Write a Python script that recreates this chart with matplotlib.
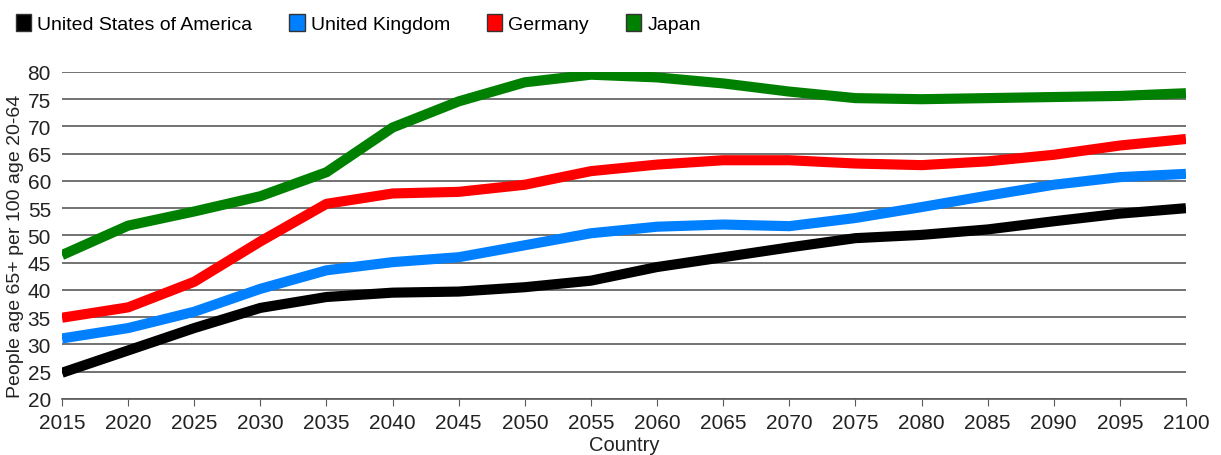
import matplotlib
matplotlib.use("Agg")
import matplotlib.pyplot as plt
from matplotlib.patches import Patch

# Data
YEARS = [2015, 2020, 2025, 2030, 2035, 2040, 2045, 2050, 2055,
         2060, 2065, 2070, 2075, 2080, 2085, 2090, 2095, 2100]

USA = [24.8, 28.9, 33.0, 36.7, 38.7, 39.5, 39.7, 40.5, 41.7,
       44.2, 46.0, 47.8, 49.5, 50.1, 51.1, 52.6, 54.0, 55.0]
UK = [31.1, 33.0, 36.0, 40.2, 43.6, 45.1, 46.0, 48.2, 50.4,
      51.6, 52.0, 51.7, 53.2, 55.2, 57.3, 59.3, 60.7, 61.3]
GERMANY = [34.9, 36.8, 41.5, 48.9, 55.8, 57.7, 58.0, 59.3, 61.8,
           63.0, 63.8, 63.8, 63.2, 62.9, 63.6, 64.8, 66.5, 67.7]
JAPAN = [46.4, 51.8, 54.4, 57.2, 61.6, 69.8, 74.6, 78.1, 79.5,
         79.0, 77.9, 76.4, 75.2, 75.0, 75.2, 75.4, 75.6, 76.1]

SERIES = [
    ("United States of America", USA, "#000000"),
    ("United Kingdom", UK, "#0080ff"),
    ("Germany", GERMANY, "#ff0000"),
    ("Japan", JAPAN, "#008000"),
]

plt.rcParams["font.family"] = ["Liberation Sans", "DejaVu Sans"]

fig = plt.figure(figsize=(12.21, 4.56), dpi=100)
ax = fig.add_axes([0.0508, 0.123, 0.9205, 0.717])

for name, vals, col in SERIES:
    ax.plot(YEARS, vals, color=col, linewidth=7.3, solid_joinstyle="round",
            solid_capstyle="butt", zorder=3)

ax.set_xlim(2015, 2100)
ax.set_ylim(20, 80)
ax.set_xticks(YEARS)
ax.set_yticks(range(20, 81, 5))
ax.yaxis.grid(True, color="#5a5a5a", linewidth=1.2)
ax.set_axisbelow(True)
for s in ["left", "right", "top"]:
    ax.spines[s].set_visible(False)
ax.spines["bottom"].set_color("#5a5a5a")
ax.spines["bottom"].set_linewidth(1.2)
ax.tick_params(axis="x", direction="out", length=5, color="#5a5a5a",
               labelsize=15, labelcolor="#222222", pad=5)
ax.tick_params(axis="y", length=0, labelsize=15, labelcolor="#222222", pad=8)

ax.set_xlabel("Country", fontsize=14.5, color="#222222", labelpad=2)
ax.set_ylabel("People age 65+ per 100 age 20-64", fontsize=14,
              color="#222222", labelpad=0)
ax.yaxis.set_label_coords(-0.034, 0.47)

handles = [Patch(facecolor=col, edgecolor="#333333", label=name)
           for name, _, col in SERIES]
fig.legend(handles=handles, loc="upper left", bbox_to_anchor=(0.001, 1.0),
           ncol=4, frameon=False, fontsize=14, handlelength=0.8,
           handleheight=1.0, handletextpad=0.3, columnspacing=1.9,
           borderpad=0.25)

fig.savefig("out.png", dpi=100)
